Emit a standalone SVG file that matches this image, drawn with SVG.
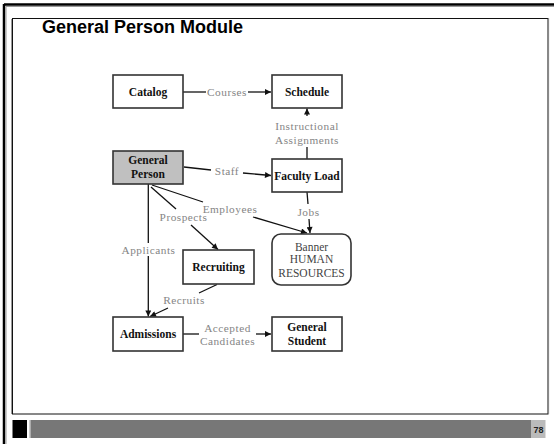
<svg xmlns="http://www.w3.org/2000/svg" width="554" height="444" viewBox="0 0 554 444">
<style>
.box{fill:#fff;stroke:#333;stroke-width:1.6}
.nt{font-family:"Liberation Serif","Times New Roman",serif;font-weight:bold;font-size:11.5px;fill:#111;text-anchor:middle}
.lb{font-family:"Liberation Serif","Times New Roman",serif;font-size:11.3px;letter-spacing:0.5px;fill:#858585;text-anchor:middle}
.bt{font-family:"Liberation Serif","Times New Roman",serif;font-size:11.5px;fill:#444;text-anchor:middle}
.ln{fill:none;stroke:#111;stroke-width:1.3}
.ar{fill:none;stroke:#111;stroke-width:1.3;marker-end:url(#ah)}
</style>
<defs>
<marker id="ah" viewBox="0 0 10 10" refX="10" refY="5" markerWidth="8" markerHeight="6" markerUnits="userSpaceOnUse" orient="auto">
<path d="M0,0 L10,5 L0,10 z" fill="#111"/>
</marker>
</defs>
<rect width="554" height="444" fill="#fff"/>
<g id="frame">
<line x1="4" y1="4" x2="4" y2="444" stroke="#000" stroke-width="2.5"/>
<line x1="4" y1="4.5" x2="554" y2="4.5" stroke="#000" stroke-width="2.5"/>
<line x1="6" y1="6.5" x2="6" y2="444" stroke="#999" stroke-width="1"/>
<line x1="6" y1="6.5" x2="554" y2="6.5" stroke="#999" stroke-width="1"/>
<rect x="12.5" y="18.5" width="535.5" height="395.5" fill="none" stroke="#111" stroke-width="1"/>
<line x1="11.5" y1="19" x2="11.5" y2="414" stroke="#999" stroke-width="1"/>
<line x1="548.5" y1="18" x2="548.5" y2="414" stroke="#888" stroke-width="1.2"/>
<rect x="12.5" y="420" width="14.5" height="18" fill="#000"/>
<rect x="29" y="420" width="1.5" height="18" fill="#ccc"/>
<rect x="30.5" y="420" width="500.5" height="18" fill="#777"/>
<rect x="531" y="420" width="14.5" height="18" fill="#bbb"/>
<text x="538.5" y="432.5" font-family="Liberation Sans,Arial,sans-serif" font-weight="bold" font-size="9px" fill="#222" text-anchor="middle">78</text>
</g>
<text id="title" x="42" y="33.3" font-family="Liberation Sans,Arial,sans-serif" font-weight="bold" font-size="18px" fill="#000">General Person Module</text>
<g id="connectors">
<line class="ln" x1="183" y1="92" x2="206" y2="92"/>
<line class="ar" x1="248" y1="92" x2="271" y2="92"/>
<text class="lb" x="227" y="95.5">Courses</text>
<line class="ar" x1="307" y1="116" x2="307" y2="108.5"/>
<line class="ln" x1="307" y1="147" x2="307" y2="159"/>
<text class="lb" x="307" y="130">Instructional</text>
<text class="lb" x="307" y="143.5">Assignments</text>
<line class="ln" x1="184" y1="167" x2="211" y2="170"/>
<line class="ar" x1="243" y1="173" x2="271" y2="175.5"/>
<text class="lb" x="227" y="175">Staff</text>
<line class="ln" x1="307" y1="192" x2="308" y2="204"/>
<line class="ar" x1="309" y1="219" x2="310" y2="233"/>
<text class="lb" x="308.5" y="215.5">Jobs</text>
<line class="ln" x1="152" y1="185" x2="203" y2="202"/>
<line class="ar" x1="253" y1="217" x2="307" y2="233"/>
<text class="lb" x="230" y="212.5">Employees</text>
<line class="ln" x1="151" y1="187" x2="176" y2="209"/>
<line class="ar" x1="191" y1="225" x2="218" y2="249.5"/>
<text class="lb" x="183.5" y="220.5">Prospects</text>
<line class="ar" x1="148.3" y1="184" x2="148.3" y2="316.5"/>
<rect x="121" y="243" width="55" height="13" fill="#fff"/>
<text class="lb" x="148.5" y="253.5">Applicants</text>
<line class="ln" x1="217" y1="284.5" x2="199" y2="293"/>
<line class="ar" x1="168" y1="308" x2="150" y2="316.5"/>
<text class="lb" x="184" y="304">Recruits</text>
<line class="ln" x1="183" y1="334" x2="199" y2="334"/>
<line class="ar" x1="256" y1="334" x2="271" y2="334"/>
<text class="lb" x="227.5" y="331.5">Accepted</text>
<text class="lb" x="227.5" y="344.5">Candidates</text>
</g>
<g id="catalog"><rect class="box" x="113" y="75" width="70" height="33"/><text class="nt" x="148" y="95.5">Catalog</text></g>
<g id="schedule"><rect class="box" x="272" y="75" width="70" height="33"/><text class="nt" x="307" y="95.5">Schedule</text></g>
<g id="general-person"><rect class="box" x="113" y="151" width="70" height="33" style="fill:#c0c0c0"/><text class="nt" x="148" y="164">General</text><text class="nt" x="148" y="177.5">Person</text></g>
<g id="faculty-load"><rect class="box" x="272" y="159" width="70" height="33"/><text class="nt" x="307" y="179.5">Faculty Load</text></g>
<g id="banner-hr"><rect class="box" x="272" y="234" width="79" height="51" rx="9"/><text class="bt" x="311.5" y="250.5">Banner</text><text class="bt" x="311.5" y="263">HUMAN</text><text class="bt" x="311.5" y="276.5">RESOURCES</text></g>
<g id="recruiting"><rect class="box" x="183" y="250" width="71" height="34"/><text class="nt" x="218.5" y="271">Recruiting</text></g>
<g id="admissions"><rect class="box" x="113" y="317" width="70" height="34"/><text class="nt" x="148" y="338">Admissions</text></g>
<g id="general-student"><rect class="box" x="272" y="317" width="70" height="34"/><text class="nt" x="307" y="331">General</text><text class="nt" x="307" y="344.5">Student</text></g>
</svg>
